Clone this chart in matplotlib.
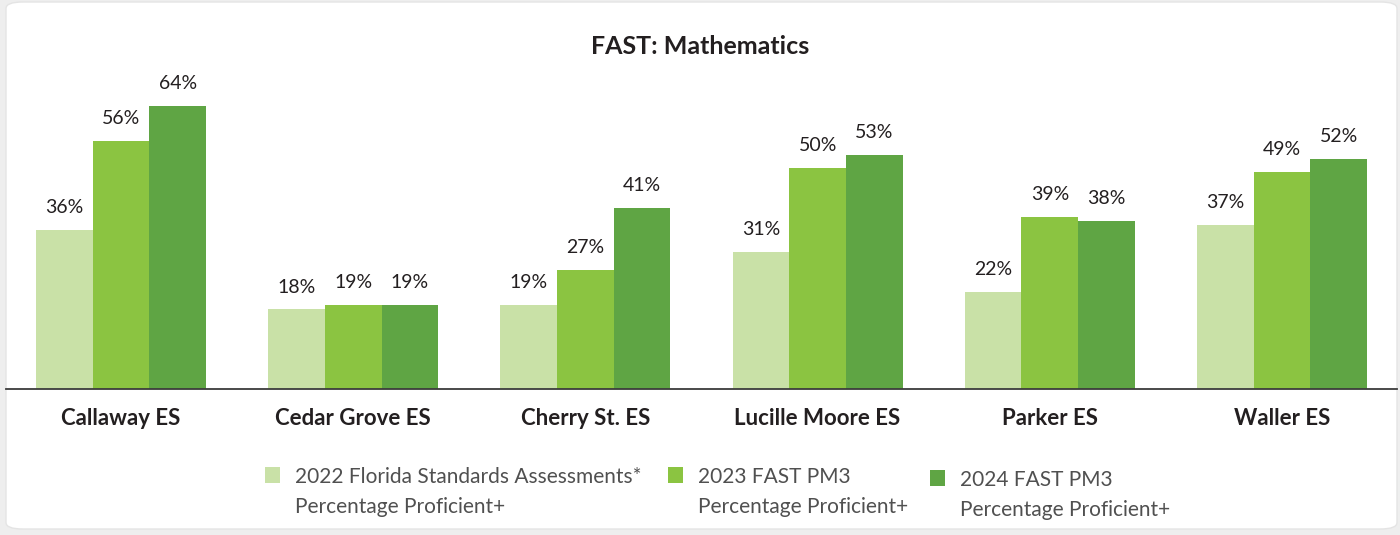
import numpy as np
import matplotlib
matplotlib.use('Agg')
from matplotlib import pyplot as plt
from matplotlib.patches import FancyBboxPatch

schools = ['Callaway ES', 'Cedar Grove ES', 'Cherry St. ES',
           'Lucille Moore ES', 'Parker ES', 'Waller ES']
fsa_2022 = [36, 18, 19, 31, 22, 37]
fast_2023 = [56, 19, 27, 50, 39, 49]
fast_2024 = [64, 19, 41, 53, 38, 52]
series_labels = ['2022 Florida Standards Assessments*\nPercentage Proficient+',
                 '2023 FAST PM3\nPercentage Proficient+',
                 '2024 FAST PM3\nPercentage Proficient+']
colors = ['#c9e1a7', '#8bc441', '#5fa544']

plt.rcParams['font.family'] = ['Lato', 'DejaVu Sans']

W, H = 1400, 535
fig = plt.figure(figsize=(W / 100, H / 100), dpi=100)
fig.patch.set_facecolor('#eeeeee')

# white rounded card behind the chart
card = FancyBboxPatch((6 / W, 6 / H), 1391 / W, 527 / H,
                      boxstyle='round,pad=0,rounding_size=0.012',
                      transform=fig.transFigure, facecolor='white',
                      edgecolor='#e4e4e4', linewidth=1, zorder=-10)
fig.patches.append(card)

# axes: baseline at y=389px, left 6px, right 1397px
ax = fig.add_axes([6 / W, (H - 389) / H, 1391 / W, 329 / H])
ax.set_facecolor('none')
ax.set_zorder(2)

x = np.arange(len(schools))
bw = 0.244
for k, vals in enumerate([fsa_2022, fast_2023, fast_2024]):
    pos = x + (k - 1) * bw
    ax.bar(pos, vals, width=bw, color=colors[k], linewidth=0, zorder=2)
    for p, v in zip(pos, vals):
        ax.annotate(f'{v}%', (p, v), xytext=(0, 10), textcoords='offset points',
                    ha='center', va='bottom', fontsize=14, color='#231f20')

ax.set_xlim(-0.495, 5.495)
ax.set_ylim(0, 74.4)
for s in ['top', 'right', 'left']:
    ax.spines[s].set_visible(False)
ax.spines['bottom'].set_color('#3c3c3c')
ax.spines['bottom'].set_linewidth(1.3)
ax.spines['bottom'].set_zorder(3)
ax.set_yticks([])
ax.set_xticks(x)
ax.set_xticklabels(schools, fontsize=16, fontweight='bold', color='#231f20')
ax.tick_params(axis='x', length=0, pad=14)

fig.text(700 / W, 1 - 47 / H, 'FAST: Mathematics', ha='center', va='center',
         fontsize=18, fontweight='bold', color='#231f20')

# legend drawn by hand
leg_x = [265, 668, 930]
leg_y = [475, 475, 478]
for lx, ly, lab, c in zip(leg_x, leg_y, series_labels, colors):
    fig.patches.append(plt.Rectangle((lx / W, 1 - (ly + 8) / H), 15 / W, 16 / H,
                                     transform=fig.transFigure, facecolor=c,
                                     edgecolor='none'))
    fig.text((lx + 30) / W, 1 - (ly - 8) / H, lab, ha='left', va='top',
             fontsize=15, color='#505050', linespacing=1.62)

fig.savefig('out.png', dpi=100, facecolor=fig.get_facecolor())
